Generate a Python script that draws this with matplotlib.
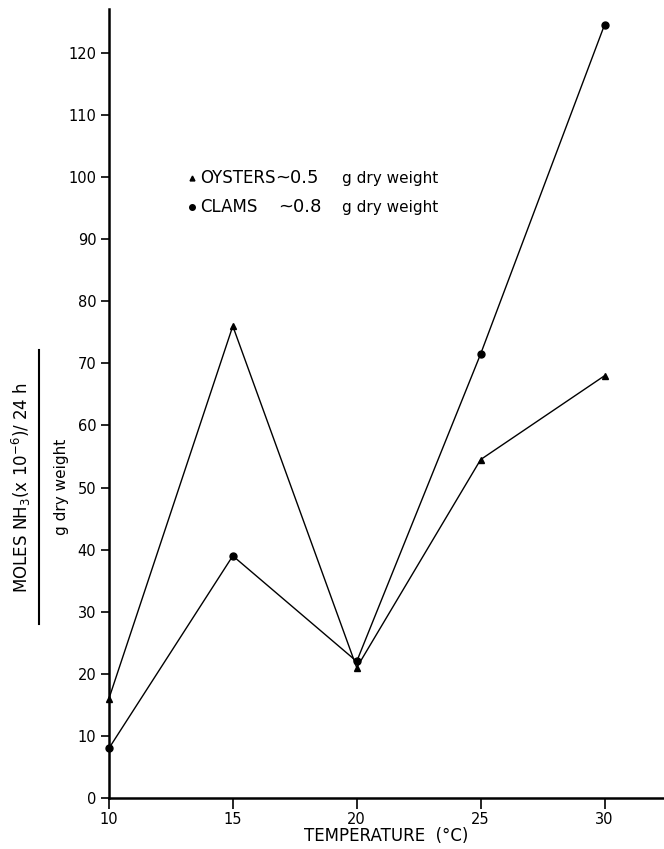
import matplotlib
matplotlib.use("Agg")
from matplotlib import pyplot as plt
from matplotlib.lines import Line2D

# temperaturas (°C)
temperatura = [10, 15, 20, 25, 30]
# moles NH3 (x10^-6) / 24 h / g peso seco
ostras = [16, 76, 21, 54.5, 68]
almejas = [8, 39, 22, 71.5, 124.5]

x_ticks = [10, 15, 20, 25, 30]
y_ticks = list(range(0, 121, 10))

plt.rcParams['font.family'] = ['DejaVu Sans']

fig = plt.figure(figsize=(6.64, 8.49), dpi=100)
ax = fig.add_axes([0.164, 0.060, 0.836, 0.929])

ax.plot(temperatura, ostras, color='black', lw=1.0, marker='^', ms=5, clip_on=False)
ax.plot(temperatura, almejas, color='black', lw=1.0, marker='o', ms=5, clip_on=False)

ax.set_xlim(10, 32.4)
ax.set_ylim(0, 127)
ax.set_xticks(x_ticks)
ax.set_yticks(y_ticks)
ax.tick_params(axis='both', direction='out', width=1.2, labelsize=10.5)
ax.tick_params(axis='x', length=8, pad=2)
ax.tick_params(axis='y', length=6, pad=3)
for s in ['top', 'right']:
    ax.spines[s].set_visible(False)
for s in ['left', 'bottom']:
    ax.spines[s].set_linewidth(1.8)

# leyenda escrita a mano
ax.plot([0.150], [0.786], marker='^', ms=3.5, color='black', transform=ax.transAxes, clip_on=False)
ax.plot([0.150], [0.749], marker='o', ms=4, color='black', transform=ax.transAxes, clip_on=False)
ax.text(0.164, 0.786, 'OYSTERS', transform=ax.transAxes, fontsize=12, va='center')
ax.text(0.300, 0.786, '~0.5', transform=ax.transAxes, fontsize=13, va='center')
ax.text(0.420, 0.786, 'g dry weight', transform=ax.transAxes, fontsize=11, va='center')
ax.text(0.164, 0.749, 'CLAMS', transform=ax.transAxes, fontsize=12, va='center')
ax.text(0.305, 0.749, '~0.8', transform=ax.transAxes, fontsize=13, va='center')
ax.text(0.420, 0.749, 'g dry weight', transform=ax.transAxes, fontsize=11, va='center')

ax.set_xlabel('TEMPERATURE  (°C)', fontsize=12, labelpad=0)

# etiqueta del eje y como fraccion
fig.text(0.033, 0.426, r'MOLES NH$_3$(x 10$^{-6}$)/ 24 h', rotation=90,
         fontsize=12, ha='center', va='center')
fig.add_artist(Line2D([0.059, 0.059], [0.265, 0.588], color='black', lw=1.5))
fig.text(0.092, 0.426, 'g dry weight', rotation=90, fontsize=11, ha='center', va='center')

fig.savefig('out.png', dpi=100)
